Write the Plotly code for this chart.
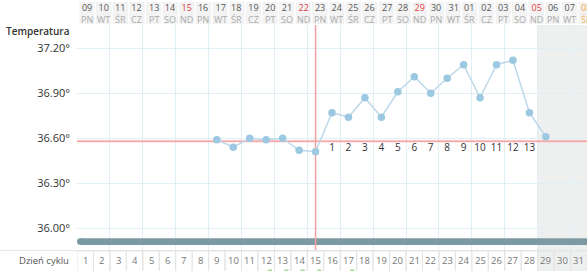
import plotly.graph_objects as go

# ---------------- data ----------------
days = list(range(1, 32))
dates = ["09", "10", "11", "12", "13", "14", "15", "16", "17", "18", "19", "20",
         "21", "22", "23", "24", "25", "26", "27", "28", "29", "30", "31",
         "01", "02", "03", "04", "05", "06", "07", "08"]
weekdays = ["PN", "WT", "ŚR", "CZ", "PT", "SO", "ND"]
temp_days = list(range(9, 30))
temps = [36.59, 36.54, 36.60, 36.59, 36.60, 36.52, 36.51, 36.77, 36.74, 36.87,
         36.74, 36.91, 37.01, 36.90, 37.00, 37.09, 36.87, 37.09, 37.12, 36.77, 36.61]
post_days = list(range(16, 29))
post_labels = [str(i) for i in range(1, 14)]
coverline = 36.58
ovulation_day = 15
ytick_vals = [36.00, 36.30, 36.60, 36.90, 37.20]
ytick_text = ["36.00°", "36.30°", "36.60°", "36.90°", "37.20°"]
future_days = [29, 30, 31]
marked_days = [12, 13, 14, 15, 17]
bar_level = 35.911

FONT = "Open Sans"
W, H = 587, 271
ML, MT, MB = 77, 25, 21
PH = H - MT - MB          # plot height in px
YR = [35.855, 37.355]
XR = [0.5, 31.5]


def py2paper(py):
    return (H - MB - py) / PH


def px2paper(px):
    return (px - ML) / (W - ML)


fig = go.Figure()

# temperature curve
fig.add_trace(go.Scatter(
    x=temp_days, y=temps, mode="lines+markers",
    line=dict(color="#bcd9ea", width=1.5),
    marker=dict(color="#9cc8e2", size=7.5),
    hoverinfo="skip", showlegend=False))

# post-ovulation day counters
fig.add_trace(go.Scatter(
    x=post_days, y=[36.535] * len(post_days), mode="text", text=post_labels,
    textfont=dict(size=10, color="#333333", family=FONT),
    hoverinfo="skip", showlegend=False))

# dummy trace for header axis
fig.add_trace(go.Scatter(x=[], y=[], xaxis="x2", showlegend=False))

shapes = []
annotations = []


def ann(x, y, text, xref, size, color, xanchor="center", weight=None):
    f = dict(size=size, color=color, family=FONT)
    if weight:
        f["weight"] = weight
    annotations.append(dict(x=x, y=y, xref=xref, yref="paper", text=text,
                            showarrow=False, xanchor=xanchor, yanchor="middle",
                            font=f, borderpad=0))


# grey future region (plot + bottom row)
shapes.append(dict(type="rect", xref="x", yref="paper",
                   x0=future_days[0] - 0.5, x1=future_days[-1] + 0.5,
                   y0=py2paper(H + 2), y1=1.0,
                   fillcolor="#eef0f0", line=dict(width=0), layer="below"))

# header cells and labels
for i, d in enumerate(days):
    shapes.append(dict(type="rect", xref="x2", yref="paper",
                       x0=d - 0.46, x1=d + 0.46,
                       y0=py2paper(24), y1=py2paper(2),
                       fillcolor="#f3f3f3", line=dict(width=0), layer="below"))
    wd = weekdays[i % 7]
    if d == 31:
        ncol = "#f0a040"
        wcol = "#f0b060"
    elif wd == "ND":
        ncol = "#e03c3c"
        wcol = "#aaaaaa"
    else:
        ncol = "#555555"
        wcol = "#aaaaaa"
    txt = ("<span style='color:%s'>%s</span><br><span style='color:%s'>%s</span>"
           % (ncol, dates[i], wcol, wd))
    ann(d, py2paper(13), txt, "x2", 9, ncol)

# bottom row
shapes.append(dict(type="line", xref="paper", yref="paper",
                   x0=px2paper(0), x1=1, y0=py2paper(250.5), y1=py2paper(250.5),
                   line=dict(color="#e6e6e6", width=1), layer="below"))
for d in days:
    shapes.append(dict(type="rect", xref="x", yref="paper",
                       x0=d - 0.5, x1=d + 0.5,
                       y0=py2paper(H + 3), y1=py2paper(251),
                       fillcolor="rgba(0,0,0,0)",
                       line=dict(color="#e4e4e4", width=1), layer="below"))
    ann(d, py2paper(260), str(d), "x", 9.5, "#777777")
for d in marked_days:
    shapes.append(dict(type="rect", xref="x", yref="paper",
                       x0=d + 0.1, x1=d + 0.35,
                       y0=py2paper(H + 1), y1=py2paper(269.5),
                       fillcolor="#a8d890", line=dict(width=0), layer="below"))

ann(px2paper(44), py2paper(260), "Dzień cyklu", "paper", 9.5, "#555555")
ann(px2paper(70.5), py2paper(31), "Temperatura", "paper", 10, "#333333",
    xanchor="right", weight=600)

# thick bar (phase bar)
px_unit = (W - ML) / (XR[1] - XR[0])
py_unit = PH / (YR[1] - YR[0])
r = 3.3
shapes.append(dict(type="rect", xref="x", yref="y",
                   x0=XR[0] + r / px_unit, x1=XR[1],
                   y0=bar_level - r / py_unit, y1=bar_level + r / py_unit,
                   fillcolor="#7b9aa3", line=dict(width=0), layer="between"))
shapes.append(dict(type="circle", xref="x", yref="y",
                   x0=XR[0], x1=XR[0] + 2 * r / px_unit,
                   y0=bar_level - r / py_unit, y1=bar_level + r / py_unit,
                   fillcolor="#7b9aa3", line=dict(width=0), layer="between"))

# cover line and ovulation line
shapes.append(dict(type="line", xref="x", yref="y", x0=XR[0], x1=XR[1],
                   y0=coverline, y1=coverline,
                   line=dict(color="#f6abab", width=2), layer="between"))
shapes.append(dict(type="line", xref="x", yref="y", x0=ovulation_day, x1=ovulation_day,
                   y0=YR[0], y1=YR[1],
                   line=dict(color="#f4a2a2", width=1.5), layer="between"))

fig.update_layout(
    width=W, height=H,
    margin=dict(l=ML, r=0, t=MT, b=MB, pad=0),
    paper_bgcolor="white", plot_bgcolor="rgba(0,0,0,0)",
    showlegend=False,
    xaxis=dict(range=XR, tickvals=[0.5 + 2 * k for k in range(16)],
               showticklabels=False, ticks="", showgrid=True,
               gridcolor="#e0eef5", gridwidth=1, zeroline=False, showline=False,
               fixedrange=True),
    xaxis2=dict(range=[0.399, 31.048], overlaying="x", anchor="y",
                visible=False, fixedrange=True),
    yaxis=dict(range=YR, tickvals=ytick_vals, ticktext=ytick_text,
               ticks="", ticklabelstandoff=6,
               tickfont=dict(size=11, color="#333333", family=FONT),
               showgrid=True, gridcolor="#e0eef5", gridwidth=1,
               zeroline=False, showline=False, fixedrange=True),
    shapes=shapes, annotations=annotations,
)

fig.write_html("out.html")
